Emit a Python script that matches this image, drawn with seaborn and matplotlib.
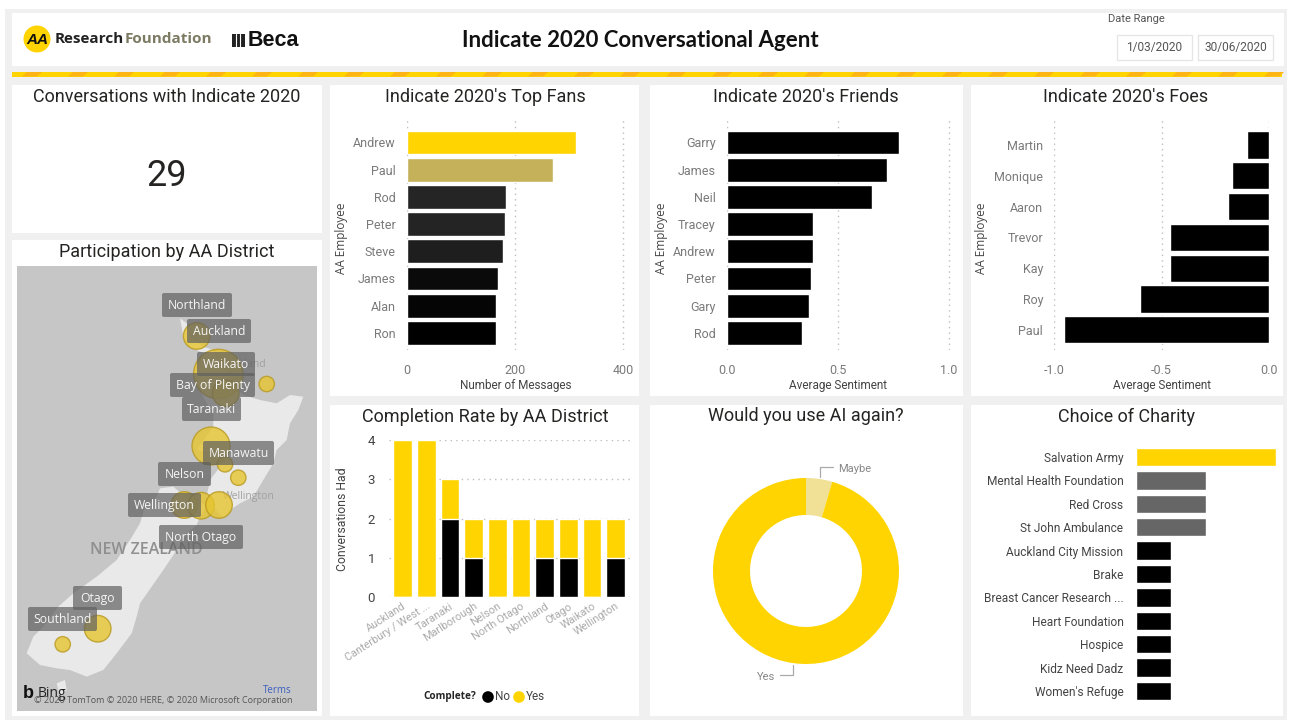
import matplotlib
matplotlib.use("Agg")
import matplotlib.pyplot as plt
import seaborn as sns
from matplotlib.patches import Rectangle, FancyBboxPatch, Polygon, Circle

# ---- data ----
fans_names = ["Andrew", "Paul", "Rod", "Peter", "Steve", "James", "Alan", "Ron"]
fans_msgs = [313, 271, 183, 182, 178, 169, 165, 165]
fans_colors = ["#FFD400", "#C4B15A", "#252525", "#242424", "#1e1e1e", "#0a0a0a", "#050505", "#000000"]

friends_names = ["Garry", "James", "Neil", "Tracey", "Andrew", "Peter", "Gary", "Rod"]
friends_sent = [0.776, 0.72, 0.652, 0.389, 0.387, 0.38, 0.37, 0.34]

foes_names = ["Martin", "Monique", "Aaron", "Trevor", "Kay", "Roy", "Paul"]
foes_sent = [-0.103, -0.172, -0.19, -0.461, -0.461, -0.603, -0.953]

districts = ["Auckland", "Canterbury / West ...", "Taranaki", "Marlborough", "Nelson",
             "North Otago", "Northland", "Otago", "Waikato", "Wellington"]
complete_no = [0, 0, 2, 1, 0, 0, 1, 1, 0, 1]
complete_yes = [4, 4, 1, 1, 2, 2, 1, 1, 2, 1]

again_labels = ["Maybe", "Yes"]
again_counts = [1, 21]

charities = ["Salvation Army", "Mental Health Foundation", "Red Cross", "St John Ambulance",
             "Auckland City Mission", "Brake", "Breast Cancer Research ...", "Heart Foundation",
             "Hospice", "Kidz Need Dadz", "Women's Refuge"]
charity_votes = [4, 2, 2, 2, 1, 1, 1, 1, 1, 1, 1]
charity_colors = ["#FFD400", "#666666", "#666666", "#666666"] + ["#000000"] * 7

# map bubbles: position on the map panel and number of conversations
bubble_x = [196.7, 218.3, 225.7, 266.7, 211, 225, 238.3, 184.3, 201, 219, 97.7, 62.7]
bubble_y = [336, 374, 393.3, 384, 446, 464.3, 477.7, 505, 505.7, 505, 628.7, 644.3]
bubble_n = [2, 4, 2, 1, 3, 1, 1, 2, 2, 2, 2, 1]
bubble_area = {1: 123, 2: 367, 3: 748, 4: 1265}

place_names = ["Northland", "Auckland", "Waikato", "Bay of Plenty", "Taranaki", "Manawatu",
               "Nelson", "Wellington", "North Otago", "Otago", "Southland"]
place_left = [162, 187, 197, 170, 182, 203, 158, 128, 159, 73, 28]
place_right = [232, 251, 255, 255, 241, 274, 211, 201, 243, 122, 97]
place_mid = [305, 331, 364, 385, 409, 453, 474, 505, 537, 598, 619]

# ---- styling ----
W, H = 1291, 722
sns.set_theme(style="white")
plt.rcParams["font.family"] = ["Roboto", "DejaVu Sans"]

YELLOW = "#FFD400"
TICK = "#7a7a7a"
LABEL = "#444444"
TITLE = "#252423"

fig = plt.figure(figsize=(W / 100, H / 100), dpi=100, facecolor="white")


def px_axes(x0, y0, x1, y1, z=2):
    """Axes placed by pixel box, measured from the top-left of the figure."""
    ax = fig.add_axes([x0 / W, 1 - y1 / H, (x1 - x0) / W, (y1 - y0) / H], zorder=z)
    ax.patch.set_alpha(0)
    return ax


canvas = px_axes(0, 0, W, H, z=0)
canvas.set_xlim(0, W)
canvas.set_ylim(H, 0)
canvas.axis("off")


def box(x0, y0, x1, y1, fc="white", ec="none", lw=0, z=1):
    canvas.add_patch(Rectangle((x0, y0), x1 - x0, y1 - y0, fc=fc, ec=ec, lw=lw, zorder=z))


box(5, 9, 1287, 720, fc="#f0f0f0", z=0)
panels = [(12, 13, 1284, 66), (12, 85, 322, 233), (12, 240, 322, 716),
          (330, 85, 639, 396), (650, 85, 963, 396), (971, 85, 1283, 396),
          (330, 405, 639, 716), (650, 405, 963, 716), (971, 405, 1283, 716)]
for p in panels:
    box(*p)


def title(cx, cy, s):
    canvas.text(cx, cy, s, ha="center", va="center", fontsize=13, color=TITLE, zorder=5)


title(167, 97, "Conversations with Indicate 2020")
title(485, 97, "Indicate 2020's Top Fans")
title(806, 97, "Indicate 2020's Friends")
title(1126, 97, "Indicate 2020's Foes")
title(167, 252, "Participation by AA District")
title(485, 417, "Completion Rate by AA District")
title(806, 416, "Would you use AI again?")
title(1126, 417, "Choice of Charity")
canvas.text(167, 176, "29", ha="center", va="center", fontsize=26, color=TITLE, zorder=5)

# header strip
canvas.text(640, 40.5, "Indicate 2020 Conversational Agent", ha="center", va="center",
            fontsize=16, family="Lato", weight="bold", color="#111111", zorder=5)
canvas.add_patch(Circle((37, 39), 13.5, fc=YELLOW, ec="none", zorder=5))
canvas.text(37, 39.5, "AA", ha="center", va="center", fontsize=11, family="Liberation Sans",
            weight="bold", style="italic", color="#111111", zorder=6)
canvas.text(55, 39, "Research", ha="left", va="center", fontsize=11, family="Open Sans",
            weight="bold", color="#222222", zorder=5)
canvas.text(125, 39, "Foundation", ha="left", va="center", fontsize=11, family="Open Sans",
            weight="bold", color="#7d7a63", zorder=5)
canvas.add_patch(Rectangle((232, 34), 13, 13, fc="#222222", ec="none", zorder=5))
for step in (236, 240):
    canvas.plot([step, step], [34, 47], color="white", lw=0.8, zorder=6)
canvas.text(248, 40, "Beca", ha="left", va="center", fontsize=15.5, family="Liberation Sans",
            weight="bold", color="#111111", zorder=5)

canvas.text(1108, 19, "Date Range", ha="left", va="center", fontsize=8, color="#555555", zorder=5)
for x0, x1, s in [(1117, 1192, "1/03/2020"), (1198, 1273, "30/06/2020")]:
    box(x0, 35, x1, 60, fc="white", ec="#e6e6e6", lw=1, z=3)
    canvas.text((x0 + x1) / 2, 48, s, ha="center", va="center", fontsize=8.6, color="#555555", zorder=5)

# striped divider below the header
box(12, 72, 1282, 76.5, fc=YELLOW, z=2)
for sx in range(22, 1282, 46):
    canvas.add_patch(Polygon([(sx, 76.5), (sx + 5, 72), (sx + 20, 72), (sx + 15, 76.5)],
                             fc="#FDB515", ec="none", zorder=3))


def style_axes(ax, axis):
    sns.despine(ax=ax, left=True, bottom=True)
    ax.set_xlabel("")
    ax.set_ylabel("")
    ax.grid(True, axis=axis, linestyle=(0, (1, 3)), color="#bdbdbd", linewidth=1)
    ax.set_axisbelow(True)
    ax.tick_params(length=0)


def hbar(names, values, palette, box_px, xlim, ticks, ticklabels, ylim, xname, yname_x):
    ax = px_axes(*box_px)
    sns.barplot(x=values, y=names, hue=names, palette=palette, dodge=False, legend=False,
                width=0.88, saturation=1, ax=ax)
    style_axes(ax, "x")
    ax.set_xlim(*xlim)
    ax.set_ylim(*ylim)
    ax.set_xticks(ticks, ticklabels)
    ax.tick_params(axis="x", labelsize=9, labelcolor=TICK, pad=10)
    ax.tick_params(axis="y", labelsize=9, labelcolor=TICK, pad=8)
    canvas.text(xname[1], 385, xname[0], ha="center", va="center", fontsize=8.5, color=LABEL, zorder=5)
    canvas.text(yname_x, 238, "AA Employee", rotation=90, ha="center", va="center",
                fontsize=8.5, family="Open Sans", color=LABEL, zorder=5)
    return ax


hbar(fans_names, fans_msgs, fans_colors, (406.5, 119, 629, 350), (0, 410.3), [0, 200, 400],
     ["0", "200", "400"], (7.63, -0.864), ("Number of Messages", 516), 341)
hbar(friends_names, friends_sent, ["#000000"] * 8, (726.5, 119, 954, 350), (0, 1.0225),
     [0, 0.5, 1.0], ["0.0", "0.5", "1.0"], (7.63, -0.864), ("Average Sentiment", 838), 661)
hbar(foes_names, foes_sent, ["#000000"] * 7, (1054.2, 119, 1269.1, 350), (-1, 0),
     [-1, -0.5, 0], ["-1.0", "-0.5", "0.0"], (6.656, -0.844), ("Average Sentiment", 1162), 981)

# stacked completion bars: totals in yellow with the "No" share drawn over them
ax = px_axes(389, 440, 633, 597)
totals = [n + y for n, y in zip(complete_no, complete_yes)]
sns.barplot(x=districts, y=totals, color=YELLOW, width=0.79, saturation=1, ax=ax)
sns.barplot(x=districts, y=complete_no, color="#000000", width=0.79, saturation=1, ax=ax)
style_axes(ax, "y")
ax.set_xlim(-0.57, 9.73)
ax.set_ylim(0, 4)
ax.set_yticks([0, 1, 2, 3, 4])
ax.tick_params(axis="y", labelsize=9.5, labelcolor=LABEL, pad=10)
ax.tick_params(axis="x", labelsize=7.8, labelcolor="#aaaaaa", pad=3)
for lab in ax.get_xticklabels():
    lab.set(rotation=33, ha="right", rotation_mode="anchor")
canvas.text(342, 519, "Conversations Had", rotation=90, ha="center", va="center",
            fontsize=8.8, color=LABEL, zorder=5)

canvas.text(423, 697, "Complete?", ha="left", va="center", fontsize=7.2, family="Open Sans",
            weight="bold", color="#252423", zorder=5)
canvas.scatter([488, 519], [697, 697], s=[70, 70], c=["#000000", YELLOW], zorder=5, linewidths=0)
canvas.text(495, 697, "No", ha="left", va="center", fontsize=8.5, color=LABEL, zorder=5)
canvas.text(526, 697, "Yes", ha="left", va="center", fontsize=8.5, color=LABEL, zorder=5)

# donut
ax = px_axes(713, 478, 899, 664)
ax.pie(again_counts, colors=["#F0E196", YELLOW], startangle=90, counterclock=False, radius=1,
       wedgeprops={"width": 0.398, "linewidth": 0})
ax.set_xlim(-1, 1)
ax.set_ylim(-1, 1)
canvas.plot([820, 820, 833], [477, 467, 467], color="#aaaaaa", lw=0.9, zorder=5)
canvas.plot([793, 793, 780], [665, 675, 675], color="#aaaaaa", lw=0.9, zorder=5)
canvas.text(838, 469, again_labels[0], ha="left", va="center", fontsize=8, color="#888888", zorder=5)
canvas.text(775, 677, again_labels[1], ha="right", va="center", fontsize=8, color="#888888", zorder=5)

# charity bars
ax = px_axes(1136, 445, 1276, 703)
sns.barplot(x=charity_votes, y=charities, hue=charities, palette=charity_colors, dodge=False,
            legend=False, width=0.79, saturation=1, ax=ax)
sns.despine(ax=ax, left=True, bottom=True)
ax.set_xlim(0, 4.0)
ax.set_ylim(10.51, -0.51)
ax.set_xticks([])
ax.set_xlabel("")
ax.set_ylabel("")
ax.tick_params(length=0, axis="y", labelsize=8.6, labelcolor="#444444", pad=9)

# district map
mp = px_axes(17, 266, 317, 711, z=2)
mp.set_facecolor("#c6c6c6")
mp.patch.set_alpha(1)
mp.set_xticks([])
mp.set_yticks([])
for s in mp.spines.values():
    s.set_visible(False)

north_island = [(540, 235), (560, 250), (570, 290), (610, 320), (640, 330), (650, 360), (690, 400),
                (700, 440), (730, 465), (780, 480), (830, 490), (870, 465), (910, 470), (895, 510),
                (870, 550), (860, 600), (830, 630), (820, 670), (790, 720), (760, 770), (720, 790),
                (690, 810), (670, 835), (640, 800), (620, 770), (630, 720), (660, 680), (640, 640),
                (590, 630), (640, 560), (640, 520), (620, 490), (600, 450), (590, 400), (610, 340),
                (570, 320), (550, 290)]
south_island = [(480, 745), (520, 740), (555, 770), (590, 780), (620, 800), (600, 830), (590, 855),
                (560, 880), (530, 930), (490, 990), (455, 1040), (420, 1090), (410, 1130),
                (395, 1180), (350, 1240), (310, 1290), (260, 1310), (210, 1290), (170, 1285),
                (120, 1275), (80, 1240), (100, 1190), (130, 1160), (175, 1100), (220, 1060),
                (290, 1010), (350, 960), (390, 900), (420, 850), (435, 800), (470, 770)]
stewart_island = [(170, 1330), (195, 1320), (200, 1350), (180, 1370)]
for outline in (north_island, south_island, stewart_island):
    mp.add_patch(Polygon([(x / 3, 240 + y / 3) for x, y in outline], fc="#e9e9e9", ec="none", zorder=1))

mp.text(146, 550, "NEW ZEALAND", ha="center", va="center", fontsize=11.5, family="Open Sans",
        weight="semibold", color="#8f8f8f", zorder=2)
mp.text(249, 497, "Wellington", ha="center", va="center", fontsize=7.5, family="Open Sans",
        color="#a0a0a0", zorder=2)
mp.text(266, 365, "Auckland", ha="right", va="center", fontsize=7.5, family="Open Sans",
        color="#a0a0a0", zorder=2)

sns.scatterplot(x=bubble_x, y=bubble_y, size=bubble_n, sizes=bubble_area, legend=False,
                color="#E6C52F", alpha=0.8, edgecolor="#b8991f", linewidth=1, ax=mp, zorder=3)
mp.set_xlim(17, 317)
mp.set_ylim(711, 266)
mp.set_xlabel("")
mp.set_ylabel("")

for name, x0, x1, cy in zip(place_names, place_left, place_right, place_mid):
    mp.add_patch(FancyBboxPatch((x0 + 2, cy - 10), x1 - x0 - 4, 20, boxstyle="round,pad=2",
                                fc="#606060", ec="none", alpha=0.7, zorder=4))
    mp.text((x0 + x1) / 2, cy + 1, name, ha="center", va="center", fontsize=8.8, family="Open Sans",
            color="#f5f5f5", zorder=5)

mp.text(23, 694, "b", ha="left", va="center", fontsize=13, family="Liberation Sans", weight="bold",
        color="#111111", zorder=6)
mp.text(38, 694, "Bing", ha="left", va="center", fontsize=10, family="Open Sans", color="#222222", zorder=6)
mp.text(292, 691, "Terms", ha="right", va="center", fontsize=7, family="Open Sans", color="#3b5fc0", zorder=6)
mp.text(292, 701, "© 2020 TomTom © 2020 HERE, © 2020 Microsoft Corporation", ha="right", va="center",
        fontsize=6.5, family="Open Sans", color="#555555", zorder=6)

fig.savefig("out.png", dpi=100, facecolor="white")
